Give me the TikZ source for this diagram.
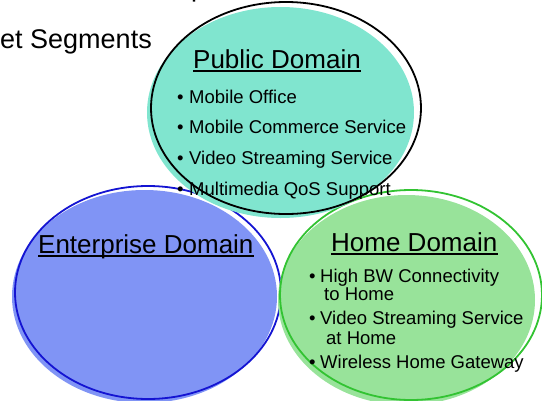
\documentclass[tikz,border=0pt]{standalone}
\usepackage{fontspec}
\setmainfont{Liberation Sans}
\begin{document}
\begin{tikzpicture}[x=1pt,y=-1pt,
  title/.style={anchor=base west,inner sep=0pt,font=\fontsize{26}{30}\selectfont},
  item/.style={anchor=base west,inner sep=0pt,font=\fontsize{18.5}{20}\selectfont},
  dotb/.style={anchor=base west,inner sep=0pt,font=\fontsize{18.5}{20}\selectfont},
  uline/.style={line width=1.4pt,black},
  big/.style={anchor=base east,inner sep=0pt,font=\fontsize{27}{30}\selectfont}]
\definecolor{teal1}{RGB}{128,229,207}
\definecolor{blue1}{RGB}{128,148,245}
\definecolor{blueline}{RGB}{20,20,210}
\definecolor{green1}{RGB}{152,227,154}
\definecolor{greenline}{RGB}{50,195,50}
\useasboundingbox (0,0) rectangle (542,400);
\clip (0,0) rectangle (542,400);
% title fragments
\node[big] (seg) at (152,48) {et Segments};
\node[anchor=base west,inner sep=0pt,font=\fontsize{27}{30}\selectfont] (pfrag) at (191,-4) {p};
% Enterprise
\fill[blue1] (144.5,296.5) ellipse [x radius=132.5,y radius=106.5];
\draw[blueline,line width=1.8pt] (148,292.5) ellipse [x radius=133,y radius=106.5];
% Home
\fill[green1] (406.5,300) ellipse [x radius=128.5,y radius=105];
\draw[greenline,line width=1.8pt] (411,295) ellipse [x radius=131,y radius=105];
% Public
\fill[teal1] (280.5,112.5) ellipse [x radius=133.5,y radius=105.5];
\draw[black,line width=1.8pt] (286,108) ellipse [x radius=135,y radius=106];
% Public text
\node[title] (pt) at (193,68) {Public Domain};
\draw[uline] ([yshift=-3pt]pt.base west) -- ([yshift=-3pt]pt.base east);
\node[dotb] (pb1) at (177,103) {•};
\node[item] (p1) at (189,103) {Mobile Office};
\node[dotb] (pb2) at (177,133) {•};
\node[item] (p2) at (189,133) {Mobile Commerce Service};
\node[dotb] (pb3) at (177,164) {•};
\node[item] (p3) at (189,164) {Video Streaming Service};
\node[dotb] (pb4) at (177,195) {•};
\node[item] (p4) at (189,195) {Multimedia QoS Support};
% Enterprise text
\node[title] (et) at (38,253) {Enterprise Domain};
\draw[uline] ([yshift=-3pt]et.base west) -- ([yshift=-3pt]et.base east);
% Home text
\node[title] (ht) at (331,251) {Home Domain};
\draw[uline] ([yshift=-3pt]ht.base west) -- ([yshift=-3pt]ht.base east);
\node[dotb] (hb1) at (309,282) {•};
\node[item] (h1) at (320,282) {High BW Connectivity};
\node[item] (h1b) at (324,300) {to Home};
\node[dotb] (hb2) at (309,324) {•};
\node[item] (h2) at (320,324) {Video Streaming Service};
\node[item] (h2b) at (326,344) {at Home};
\node[dotb] (hb3) at (309,368) {•};
\node[item] (h3) at (320,368) {Wireless Home Gateway};
\end{tikzpicture}
\end{document}
